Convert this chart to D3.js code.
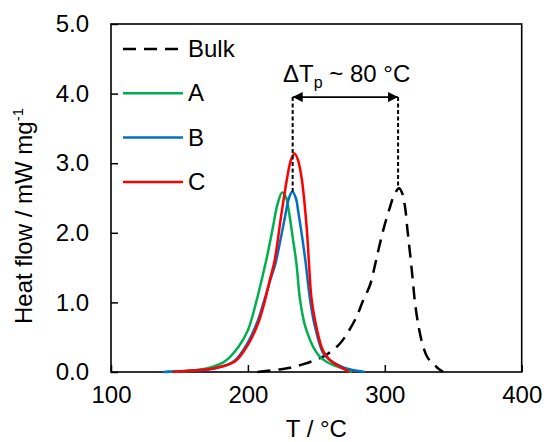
<!DOCTYPE html>
<html>
<head>
<meta charset="utf-8">
<script src="https://cdn.jsdelivr.net/npm/d3@7"></script>
<style>
  body { margin: 0; background: #fff; }
  text { font-family: "Liberation Sans", Arial, sans-serif; fill: #000; }
</style>
</head>
<body>
<div id="chart"></div>
<script>
// temperatures (°C) and heat flow (mW mg-1)
const bulkT  = [207, 220, 231, 240, 249, 255, 261, 267.3, 274, 279.5, 284, 289.2, 293, 296.5, 300, 303.8, 307, 310.4, 312.5, 314.8, 316.5, 318.4, 320.3, 322.1, 325, 328.1, 331.5, 335.4, 339, 342.7];
const bulkHF = [0, 0.03, 0.06, 0.11, 0.17, 0.22, 0.3, 0.41, 0.6, 0.8, 1.02, 1.25, 1.55, 1.85, 2.12, 2.37, 2.55, 2.64, 2.58, 2.37, 2.05, 1.71, 1.35, 0.99, 0.62, 0.36, 0.2, 0.12, 0.05, 0];

const aT  = [140, 160, 172, 183, 193, 200, 206, 210, 214, 218, 221.5, 225, 228, 230, 233, 235.5, 238, 241.5, 245, 248, 252.5, 258, 265, 276];
const aHF = [0, 0.02, 0.06, 0.15, 0.36, 0.6, 1.0, 1.32, 1.66, 2.05, 2.4, 2.58, 2.5, 2.3, 1.9, 1.55, 1.05, 0.68, 0.48, 0.35, 0.22, 0.14, 0.08, 0];

const bT  = [138, 160, 175, 189.5, 199, 206.5, 211.5, 216, 220, 223.5, 227, 230, 232.4, 235, 236.8, 240.5, 242, 245.5, 249, 255, 260, 265, 272, 285.5];
const bHF = [0, 0.02, 0.05, 0.15, 0.39, 0.7, 1.0, 1.3, 1.55, 1.87, 2.22, 2.5, 2.59, 2.5, 2.3, 1.82, 1.6, 1.03, 0.65, 0.27, 0.17, 0.11, 0.05, 0];

const cT  = [145, 160, 175, 190.5, 200, 207.5, 212.5, 216, 219.5, 224.7, 229.5, 231.5, 234, 236.5, 239.3, 243, 244.5, 246.5, 250, 255, 260, 265, 274.5];
const cHF = [0, 0.02, 0.05, 0.15, 0.39, 0.7, 1.03, 1.32, 1.6, 2.3, 2.88, 3.05, 3.14, 3.05, 2.78, 2.06, 1.6, 1.05, 0.65, 0.3, 0.17, 0.1, 0];

const seriesNames = ["Bulk", "A", "B", "C"];
const xTicks = [100, 200, 300, 400];
const yTicks = [0, 1, 2, 3, 4, 5];

// peak positions for the ΔTp annotation
const peakT = [232.7, 309.7];
const peakTop = [2.59, 2.64];
const arrowLevel = 3.95;

const width = 544, height = 442;
const margin = {top: 24, right: 22.3, bottom: 70, left: 111};

const svg = d3.select("#chart").append("svg")
  .attr("width", width)
  .attr("height", height);

const x = d3.scaleLinear().domain([100, 400]).range([margin.left, width - margin.right]);
const y = d3.scaleLinear().domain([0, 5]).range([height - margin.bottom, margin.top]);

// axes, ticks point inward
svg.append("g")
  .attr("transform", `translate(0,${y(0)})`)
  .call(d3.axisBottom(x).tickValues(xTicks).tickSize(-7).tickSizeOuter(0).tickPadding(14).tickFormat(d3.format("d")))
  .call(g => g.select(".domain").remove())
  .call(g => g.selectAll("line").attr("stroke", "#000").attr("stroke-width", 1.5))
  .call(g => g.selectAll("text").attr("font-size", 24).attr("font-family", null));

svg.append("g")
  .attr("transform", `translate(${x(100)},0)`)
  .call(d3.axisLeft(y).tickValues(yTicks).tickSize(-7).tickSizeOuter(0).tickPadding(22).tickFormat(d3.format(".1f")))
  .call(g => g.select(".domain").remove())
  .call(g => g.selectAll("line").attr("stroke", "#000").attr("stroke-width", 1.5))
  .call(g => g.selectAll("text").attr("font-size", 24).attr("font-family", null));

svg.append("rect")
  .attr("x", x(100)).attr("y", y(5))
  .attr("width", x(400) - x(100)).attr("height", y(0) - y(5))
  .attr("fill", "none").attr("stroke", "#000").attr("stroke-width", 1.6);

// curves
const line = d3.line()
  .x(d => x(d[0]))
  .y(d => y(Math.max(0, d[1])))
  .curve(d3.curveCatmullRom.alpha(0.5));

const series = [
  {name: "Bulk", t: bulkT, v: bulkHF, color: "#000", dash: "13,8"},
  {name: "A", t: aT, v: aHF, color: "#00B050", dash: null},
  {name: "B", t: bT, v: bHF, color: "#0070C0", dash: null},
  {name: "C", t: cT, v: cHF, color: "#FF0000", dash: null}
];

svg.selectAll(".curve")
  .data(series)
  .enter()
  .append("path")
  .attr("class", "curve")
  .attr("d", s => line(d3.zip(s.t, s.v)))
  .attr("fill", "none")
  .attr("stroke", s => s.color)
  .attr("stroke-width", 2.5)
  .attr("stroke-dasharray", s => s.dash);

// legend
const legend = svg.selectAll(".legend")
  .data(series)
  .enter()
  .append("g")
  .attr("class", "legend")
  .attr("transform", (d, i) => `translate(123,${49 + i * 44.3})`);

legend.append("line")
  .attr("x1", 0).attr("x2", 60)
  .attr("stroke", d => d.color)
  .attr("stroke-width", 2.5)
  .attr("stroke-dasharray", d => d.dash);

legend.append("text")
  .attr("x", 65)
  .attr("y", 8)
  .attr("font-size", 24)
  .text((d, i) => seriesNames[i]);

// ΔTp annotation
svg.selectAll(".drop")
  .data(peakT)
  .enter()
  .append("line")
  .attr("class", "drop")
  .attr("x1", d => x(d)).attr("x2", d => x(d))
  .attr("y1", y(arrowLevel))
  .attr("y2", (d, i) => y(peakTop[i]))
  .attr("stroke", "#000")
  .attr("stroke-width", 2)
  .attr("stroke-dasharray", "4,2.5");

const defs = svg.append("defs");
defs.append("marker")
  .attr("id", "head")
  .attr("viewBox", "0 0 10 10")
  .attr("refX", 10).attr("refY", 5)
  .attr("markerWidth", 12).attr("markerHeight", 10)
  .attr("markerUnits", "userSpaceOnUse")
  .attr("orient", "auto-start-reverse")
  .append("path")
  .attr("d", "M0,0L10,5L0,10Z")
  .attr("fill", "#000");

svg.append("line")
  .attr("x1", x(peakT[0])).attr("x2", x(peakT[1]))
  .attr("y1", y(arrowLevel)).attr("y2", y(arrowLevel))
  .attr("stroke", "#000")
  .attr("stroke-width", 1.6)
  .attr("marker-start", "url(#head)")
  .attr("marker-end", "url(#head)");

const note = svg.append("text")
  .attr("x", 283)
  .attr("y", 82)
  .attr("font-size", 24);
note.append("tspan").text("ΔT");
note.append("tspan").attr("font-size", 16).attr("dy", 6).text("p");
note.append("tspan").attr("dy", -6).text(" ~ 80 °C");

// axis titles
svg.append("text")
  .attr("x", (x(100) + x(400)) / 2)
  .attr("y", 437)
  .attr("text-anchor", "middle")
  .attr("font-size", 24)
  .text("T / °C");

const yTitle = svg.append("text")
  .attr("transform", "translate(32,216) rotate(-90)")
  .attr("text-anchor", "middle")
  .attr("font-size", 24);
yTitle.append("tspan").text("Heat flow / mW mg");
yTitle.append("tspan").attr("font-size", 15).attr("dy", -9).text("-1");
</script>
</body>
</html>
